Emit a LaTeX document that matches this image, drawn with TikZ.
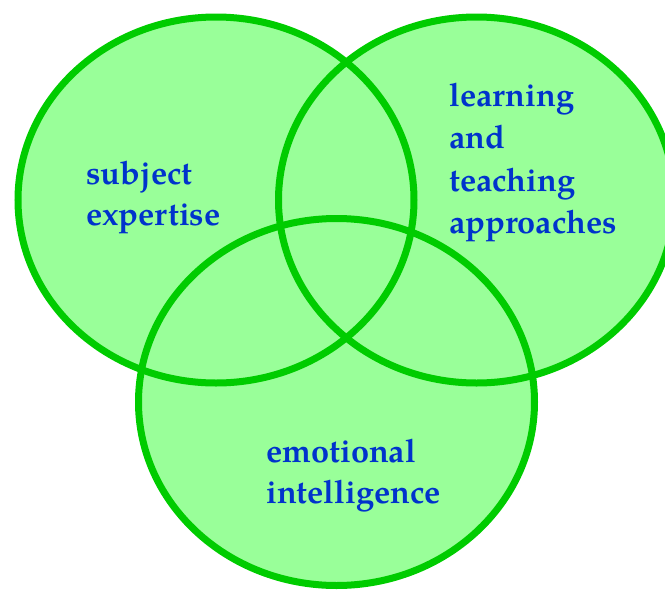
\documentclass[tikz,border=0pt]{standalone}
\usepackage{fontspec}
\setmainfont{TeX Gyre Pagella}
\definecolor{vennfill}{RGB}{153,255,153}
\definecolor{venndraw}{RGB}{0,204,0}
\definecolor{lblblue}{RGB}{0,51,204}
\tikzset{
  vfill/.style={fill=vennfill},
  vline/.style={draw=venndraw, line width=7pt},
  lbl/.style={anchor=base west, inner sep=0pt, text=lblblue, font=\fontsize{32.5pt}{42pt}\selectfont\bfseries}
}
\begin{document}
\begin{tikzpicture}[x=1pt,y=-1pt]
\useasboundingbox (0,0) rectangle (665,590);
\clip (0,0) rectangle (665,590);
% fills
\fill[vfill] (216,200) ellipse [x radius=198, y radius=183];
\fill[vfill] (476.5,200) ellipse [x radius=198, y radius=183];
\fill[vfill] (336.5,402) ellipse [x radius=198, y radius=183.5];
% outlines
\draw[vline] (216,200) ellipse [x radius=198, y radius=183];
\draw[vline] (476.5,200) ellipse [x radius=198, y radius=183];
\draw[vline] (336.5,402) ellipse [x radius=198, y radius=183.5];
% labels
\node[lbl] (se1) at (86,184) {subject};
\node[lbl] (se2) at (86,225) {expertise};
\node[lbl] (lt1) at (449,106) {learning};
\node[lbl] (lt2) at (449,148) {and};
\node[lbl] (lt3) at (449,191) {teaching};
\node[lbl] (lt4) at (449,233) {approaches};
\node[lbl] (ei1) at (266,462) {emotional};
\node[lbl] (ei2) at (266,503) {intelligence};
\end{tikzpicture}
\end{document}
